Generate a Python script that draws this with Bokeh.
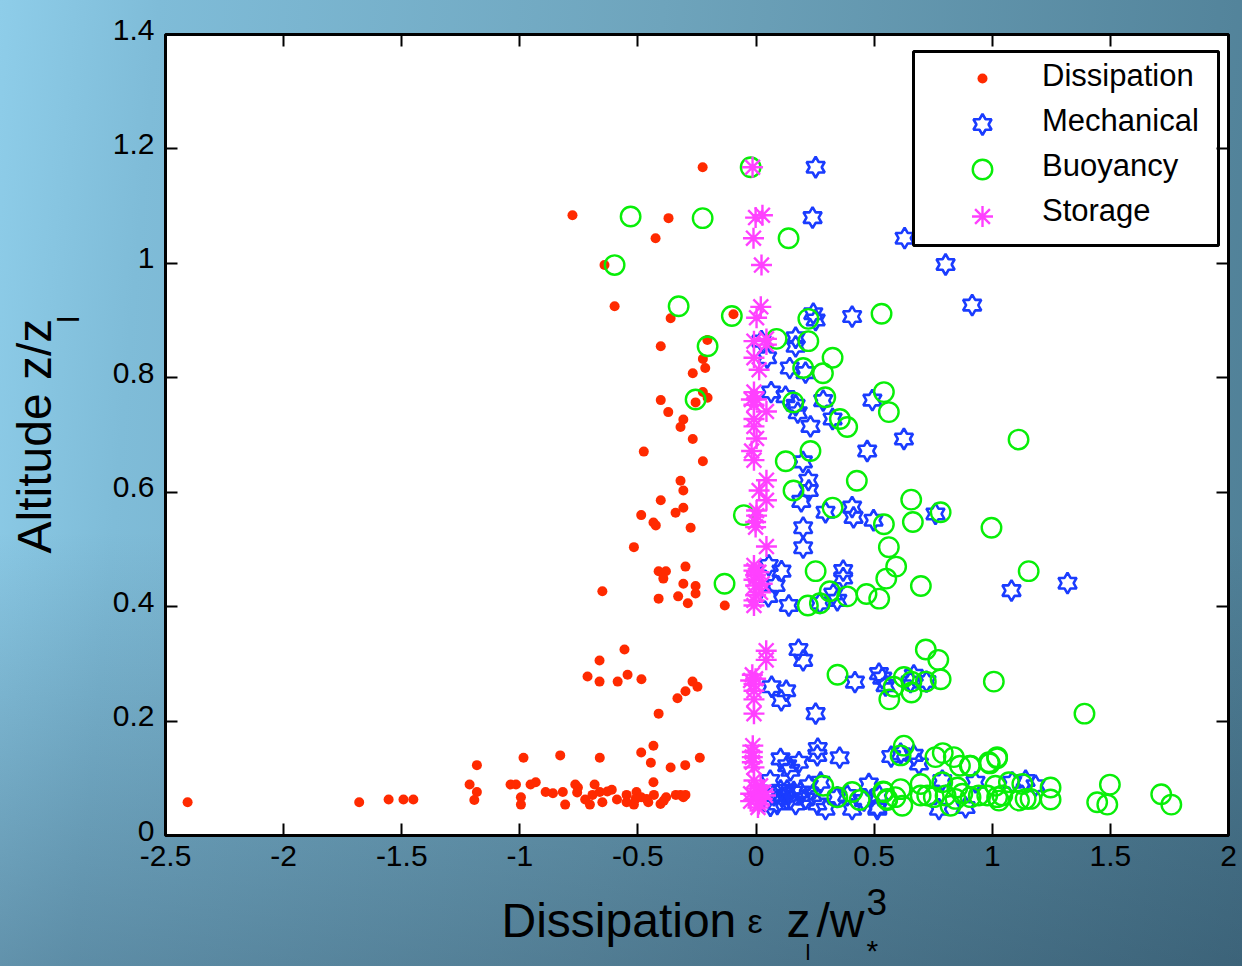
import numpy as np
from bokeh.plotting import figure
from bokeh.models import Range1d, LinearAxis, FixedTicker, Label, Legend, LegendItem
from bokeh.embed import file_html
from bokeh.resources import INLINE

x_ticks = [-2.5, -2, -1.5, -1, -0.5, 0, 0.5, 1, 1.5, 2]
x_tick_labels = ["-2.5", "-2", "-1.5", "-1", "-0.5", "0", "0.5", "1", "1.5", "2"]
y_ticks = [0, 0.2, 0.4, 0.6, 0.8, 1, 1.2, 1.4]
y_tick_labels = ["0", "0.2", "0.4", "0.6", "0.8", "1", "1.2", "1.4"]
series_names = ["Dissipation", "Mechanical", "Buoyancy", "Storage"]

dissipation_x = [-2.417,-1.688,-1.563,-1.5,-1.458,-1.188,-1.219,-1.188,-1.199,-.99,-.834,-1.045,-1.022,-.96,-.938,-1.001,-1.001,-.896,-.865,-.823,-.813,
 -.407,-.209,-.228,-.218,-.271,-.228,-.208,-.259,-.407,-.375,-.311,-.323,-.271,-.479,-.228,-.323,-.311,-.407,-.311,-.344,-.49,-.438,-.428,-.28,-.521,-.302,-.416,-.385,-.396,-.311,-.259,-.259,-.333,-.655,-.416,-.292,-.135,
 -.229,-.782,-.374,-.429,-.646,-.603,-.365,-.098,
 -.561,-.667,-.718,-.667,-.59,-.548,-.489,-.272,-.251,-.302,-.336,-.416,
 -.666,-.49,-.438,-.449,-.365,-.303,-.241,-.438,-.77,-.759,-.762,-.728,-.708,-.697,-.688,-.666,-.655,-.634,-.615,-.593,-.552,-.552,-.521,-.51,-.514,-.49,-.46,-.436,-.467,-.408,-.394,-.384,-.343,-.323,-.302,-.311]
dissipation_y = [.058,.058,.063,.063,.063,.123,.089,.076,.062,.136,.14,.089,.089,.089,.093,.067,.054,.076,.074,.076,.054,
 .855,.866,.833,.817,.808,.775,.765,.757,.761,.74,.727,.714,.693,.671,.654,.62,.603,.586,.573,.564,.56,.547,.542,.538,.504,.47,.462,.462,.449,.44,.436,.423,.418,.427,.414,.406,.402,
 1.168,1.084,1.079,1.044,.997,.925,.904,.911,
 .325,.306,.278,.269,.269,.281,.273,.269,.26,.252,.24,.213,
 .136,.145,.157,.127,.119,.123,.136,.093,.089,.084,.075,.063,.054,.071,.089,.076,.058,.077,.08,.063,.071,.058,.054,.076,.064,.067,.058,.071,.064,.055,.061,.067,.071,.071,.071,.067]

mechanical_x = [.916,.406,.241,.251,.021,.166,.166,.045,.141,.208,.062,.123,.166,.175,.283,.323,.492,.229,.626,.47,.197,.22,.222,.19,.406,.293,.412,.497,.76,
 .198,.198,.052,.106,.081,.05,.137,.368,.368,.326,.343,.269,.178,.198,.064,.126,.105,.251,.418,.52,.534,.548,.668,.654,.722,
 .251,.238,.629,.803,1.083,1.321,
 .102,.18,.13,.144,.26,.258,.353,.058,.572,.69,.668,.612,.93,.789,1.143,1.086,1.185,.513,.775,.888,
 .074,.088,.109,.13,.144,.166,.187,.208,.222,.237,.258,.293,.272,.343,.406,.385,.477,.456,.513,.52,.059,.102,.158]
mechanical_y = [.927,.907,.912,.901,.864,.87,.855,.835,.817,.809,.775,.767,.752,.739,.76,.728,.761,.715,.693,.672,.653,.621,.603,.584,.574,.565,.556,.551,.562,
 .538,.503,.472,.462,.437,.418,.402,.463,.45,.422,.411,.406,.325,.306,.26,.253,.236,.213,.268,.283,.275,.262,.28,.268,.269,
 1.168,1.08,1.044,.998,.428,.441,
 .134,.128,.122,.114,.152,.14,.136,.096,.138,.125,.14,.143,.093,.096,.096,.093,.087,.049,.046,.049,
 .07,.055,.067,.079,.064,.055,.076,.064,.087,.07,.055,.046,.093,.067,.046,.07,.09,.061,.046,.07,.052,.079,.076]

buoyancy_x = [-.025,-.535,-.229,.136,-.603,-.331,-.105,-.208,-.259,.085,.22,.531,.22,.323,.198,.282,.541,.562,.156,.292,.354,.385,.229,.124,.426,.157,.657,.323,.782,.664,.541,-.054,1.113,.998,
 .562,.251,.593,.551,.698,-.136,.311,.385,.467,.521,.269,.218,1.156,
 .719,.772,.344,.626,.658,.782,.719,.583,.658,.564,1.008,1.393,
 1.501,1.447,1.49,1.719,1.762,1.249,1.249,1.022,.991,.909,.626,.612,.76,.791,.838,.864,.906,.987,1.022,
 .541,.555,.612,.59,.619,.697,.725,.697,.753,.789,.803,.824,.853,.845,.874,.909,.944,.98,1.022,1.015,1.072,1.044,1.115,1.143,1.129,1.164,1.03,
 .283,.343,.406,.438,.538,.555]
buoyancy_y = [1.168,1.082,1.079,1.044,.997,.925,.908,.855,.762,.868,.903,.912,.864,.835,.817,.808,.775,.74,.757,.766,.728,.714,.672,.654,.62,.603,.587,.573,.565,.548,.544,.56,.692,.538,
 .504,.462,.47,.449,.436,.44,.427,.418,.422,.414,.406,.402,.462,
 .325,.307,.281,.277,.269,.273,.269,.26,.25,.238,.269,.213,
 .089,.058,.054,.072,.054,.084,.063,.135,.126,.122,.157,.14,.137,.144,.137,.122,.122,.128,.137,
 .076,.064,.081,.067,.052,.09,.07,.07,.067,.093,.07,.052,.084,.064,.073,.067,.07,.07,.067,.087,.093,.07,.061,.064,.09,.064,.061,
 .087,.067,.076,.062,.077,.062]

storage_x = [-.017,-.004,.025,-.013,.021,.018,0,.042,-.011,.042,-.011,.011,-.011,-.022,0,-.011,.042,-.011,-.011,0,-.021,-.011,.042,.011,.042,0,0,-.004,-.004,.042,
 -.011,-.011,-.004,-.011,.01,.017,-.004,-.004,-.011,-.011,.024,
 .041,.041,-.018,-.025,-.004,-.011,-.011,-.011,-.011,
 -.016,-.018,-.018,-.018,-.011,-.011,.017,-.004,.031,.003,-.025,.024,-.004,-.025,.01,.006,.038]
storage_y = [1.168,1.08,1.084,1.044,.997,.924,.905,.868,.864,.858,.835,.814,.775,.762,.762,.753,.741,.728,.715,.694,.672,.656,.621,.603,.586,.568,.559,.548,.539,.505,
 .472,.463,.455,.447,.46,.425,.437,.42,.411,.402,.44,
 .323,.307,.281,.271,.274,.265,.253,.238,.213,
 .157,.146,.137,.128,.119,.096,.087,.082,.076,.076,.073,.064,.064,.06,.055,.049,.07]

W, H = 1242, 966
FRAME_L, FRAME_R, FRAME_T, FRAME_B = 165, 1228, 34, 835
X0, X1, Y0, Y1 = -2.5, 2.0, 0.0, 1.4
PXX = (FRAME_R - FRAME_L) / (X1 - X0)
PXY = (FRAME_B - FRAME_T) / (Y1 - Y0)

def dx(px):
    return X0 + (px - FRAME_L) / PXX

def dy(py):
    return Y0 + (FRAME_B - py) / PXY

def cal(v):
    # the values above were read with a ruler of 235.4 px per unit centred on x=756
    return np.array(v) * 235.4 / PXX + 0.5 / PXX

def hexagram(cx, cy, r=10.5):
    angles = np.radians(np.arange(12) * 30 + 90)
    radii = np.where(np.arange(12) % 2 == 0, r, r / np.sqrt(3))
    return list(cx + radii * np.cos(angles) / PXX), list(cy + radii * np.sin(angles) / PXY)

RED, BLUE, GREEN, PINK = "#ff2a00", "#1a3cff", "#08ee08", "#ff40ff"

# The frame fills the page so that annotations outside the plot box are not clipped;
# the axes are pinned to the box with fixed_location.
p = figure(width=W, height=H, output_backend="svg", toolbar_location=None,
           x_range=Range1d(dx(0), dx(W)), y_range=Range1d(dy(H), dy(0)),
           min_border=0, background_fill_color=None, border_fill_color=None, outline_line_color=None)
p.grid.visible = False
p.styles = {"position": "absolute", "left": "0", "top": "0",
            "background": "linear-gradient(180deg,rgba(20,40,60,0) 55%,rgba(20,40,60,.32) 100%),"
                          "linear-gradient(95deg,#8ecde9 0%,#7fbcd8 12%,#6ea4bc 50%,#4f7f96 100%)"}

# y tick labels sit about 5 px above their ticks in the reference: a label-only axis on a shifted range
LABEL_SHIFT = 5 / PXY
p.extra_y_ranges = {"ylabels": Range1d(dy(H) - LABEL_SHIFT, dy(0) - LABEL_SHIFT)}

p.xaxis[0].fixed_location = Y0
p.yaxis[0].fixed_location = X0
xa, ya = p.xaxis[0], p.yaxis[0]
xa.ticker = FixedTicker(ticks=x_ticks)
xa.major_label_overrides = dict(zip(x_ticks, x_tick_labels))
xa.major_label_text_font = "Liberation Sans"
xa.major_label_text_font_size = "30px"
xa.major_label_text_color = "black"
xa.major_label_standoff = 10
ya.ticker = FixedTicker(ticks=y_ticks)
ya.major_label_text_font_size = "0px"
ya.major_label_text_color = None
ya.major_label_standoff = 0
for ax in (xa, ya):
    ax.major_tick_in = 12
    ax.major_tick_out = 0
    ax.major_tick_line_width = 2
    ax.major_tick_line_color = "black"
    ax.minor_tick_line_color = None
    ax.axis_line_color = None

ylab = LinearAxis(y_range_name="ylabels", fixed_location=X0, ticker=FixedTicker(ticks=y_ticks),
                  major_label_overrides=dict(zip(y_ticks, y_tick_labels)),
                  major_label_text_font="Liberation Sans", major_label_text_font_size="30px", major_label_text_color="black",
                  major_label_standoff=11, major_tick_in=0, major_tick_out=0, major_tick_line_color=None,
                  minor_tick_line_color=None, axis_line_color=None)
p.add_layout(ylab, "left")

top = LinearAxis(fixed_location=Y1, ticker=FixedTicker(ticks=x_ticks), major_label_text_font_size="0px", major_label_text_color=None,
                 major_tick_in=12, major_tick_out=0, major_tick_line_width=2, minor_tick_line_color=None, axis_line_color=None)
right = LinearAxis(fixed_location=X1, ticker=FixedTicker(ticks=y_ticks), major_label_text_font_size="0px", major_label_text_color=None,
                   major_tick_in=12, major_tick_out=0, major_tick_line_width=2, minor_tick_line_color=None, axis_line_color=None)
p.add_layout(top, "above")
p.add_layout(right, "right")

p.quad(left=[X0], right=[X1], bottom=[Y0], top=[Y1], fill_color="white", line_color="black", line_width=3)
p.scatter(cal(dissipation_x), dissipation_y, marker="circle", size=10, fill_color=RED, line_color=RED, line_width=0)
hx, hy = zip(*[hexagram(a, b) for a, b in zip(cal(mechanical_x), mechanical_y)])
p.patches(list(hx), list(hy), fill_color=None, line_color=BLUE, line_width=2.6)
p.scatter(cal(buoyancy_x), buoyancy_y, marker="circle", size=19.5, fill_color=None, line_color=GREEN, line_width=2.4)
p.scatter(cal(storage_x), storage_y, marker="asterisk", size=21, line_color=PINK, line_width=2.4)

# legend box and swatches are glyphs drawn after the data; the Legend adds the labels above them
p.quad(left=[dx(913)], right=[dx(1218)], top=[dy(51)], bottom=[dy(245)], fill_color="white", line_color="black", line_width=3)
sw_x = dx(982)
sw_y = [dy(78), dy(124), dy(169), dy(216)]
p.scatter([sw_x], [sw_y[0]], marker="circle", size=10, fill_color=RED, line_width=0)
sx, sy = hexagram(sw_x, sw_y[1])
p.patches([sx], [sy], fill_color=None, line_color=BLUE, line_width=2.6)
p.scatter([sw_x], [sw_y[2]], marker="circle", size=19.5, fill_color=None, line_color=GREEN, line_width=2.4)
p.scatter([sw_x], [sw_y[3]], marker="asterisk", size=21, line_color=PINK, line_width=2.4)

dummies = [p.scatter([], [], marker="circle", size=1, fill_alpha=0, line_alpha=0) for _ in series_names]
legend = Legend(items=[LegendItem(label=n, renderers=[d]) for n, d in zip(series_names, dummies)],
                location=(913, H - 229), margin=0, padding=0, spacing=9,
                glyph_width=118, glyph_height=16, label_height=16, label_standoff=11,
                label_text_font="Liberation Sans", label_text_font_size="31px", label_text_color="black",
                border_line_color=None, background_fill_alpha=0)
p.add_layout(legend)

BASELINE_DROP = 0.37  # a Label set to "alphabetic" lands this many ems past the asked-for position

def label(text, px, py, size, angle=0.0, align="left"):
    if angle:
        px -= BASELINE_DROP * size
    else:
        py -= BASELINE_DROP * size
    p.add_layout(Label(x=dx(px), y=dy(py), text=text, text_font="Liberation Sans", text_font_size=f"{size}px",
                       text_color="black", angle=angle, text_align=align, text_baseline="alphabetic"))

label("Dissipation", 501, 938, 48)
label("ε", 747, 933, 34)
label("z", 786, 938, 48)
label("l", 805, 960, 22)
label("/w", 816, 938, 48)
label("3", 866, 915, 37)
label("*", 866, 961, 30)
label("Altitude z/z", 52, 553, 48, angle=np.pi / 2)
label("l", 79, 319, 30, angle=np.pi / 2, align="center")

open("out.html", "w").write(file_html(p, INLINE))
